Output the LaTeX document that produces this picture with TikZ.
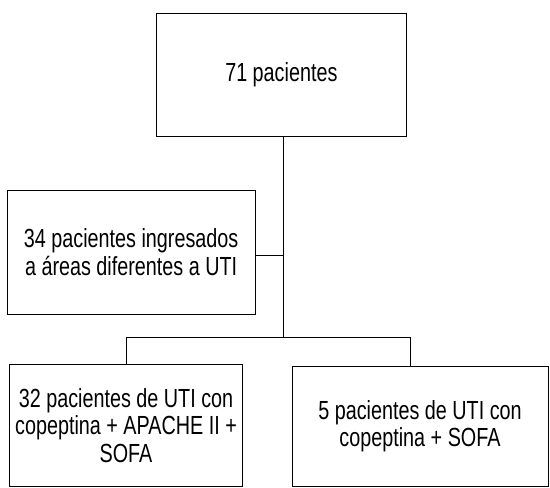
\documentclass[tikz,border=0pt]{standalone}
\usepackage{fontspec}
\setmainfont[FakeStretch=0.755]{Liberation Sans}
\begin{document}
\begin{tikzpicture}[x=1pt,y=-1pt,
  box/.style={draw=black,line width=1pt,rectangle,inner sep=0pt,align=center,
    font=\fontsize{26.2}{27.7}\selectfont},
  conn/.style={draw=black,line width=1pt}]
\useasboundingbox (0,0) rectangle (550,488);
\node[box,minimum width=250.7pt,minimum height=123.4pt] (top) at (281.35,75) {71 pacientes};
\node[box,minimum width=247.7pt,minimum height=124.3pt] (left) at (131.15,252.15) {34 pacientes ingresados\\a áreas diferentes a UTI};
\node[box,minimum width=233.4pt,minimum height=122.4pt] (bl) at (126,425.5) {32 pacientes de UTI con\\copeptina + APACHE II +\\SOFA};
\node[box,minimum width=256pt,minimum height=120.7pt] (br) at (420,426.35) {5 pacientes de UTI con\\copeptina + SOFA};
\coordinate (j1) at (283.3,255);
\coordinate (j2) at (283.3,337.3);
\coordinate (cL) at (126.7,337.3);
\coordinate (cR) at (410.7,337.3);
\draw[conn] (j1 |- top.south) -- (j2);
\draw[conn] (left.east |- j1) -- (j1);
\draw[conn] (cL) -- (cR);
\draw[conn] (cL) -- (cL |- bl.north);
\draw[conn] (cR) -- (cR |- br.north);
\end{tikzpicture}
\end{document}
